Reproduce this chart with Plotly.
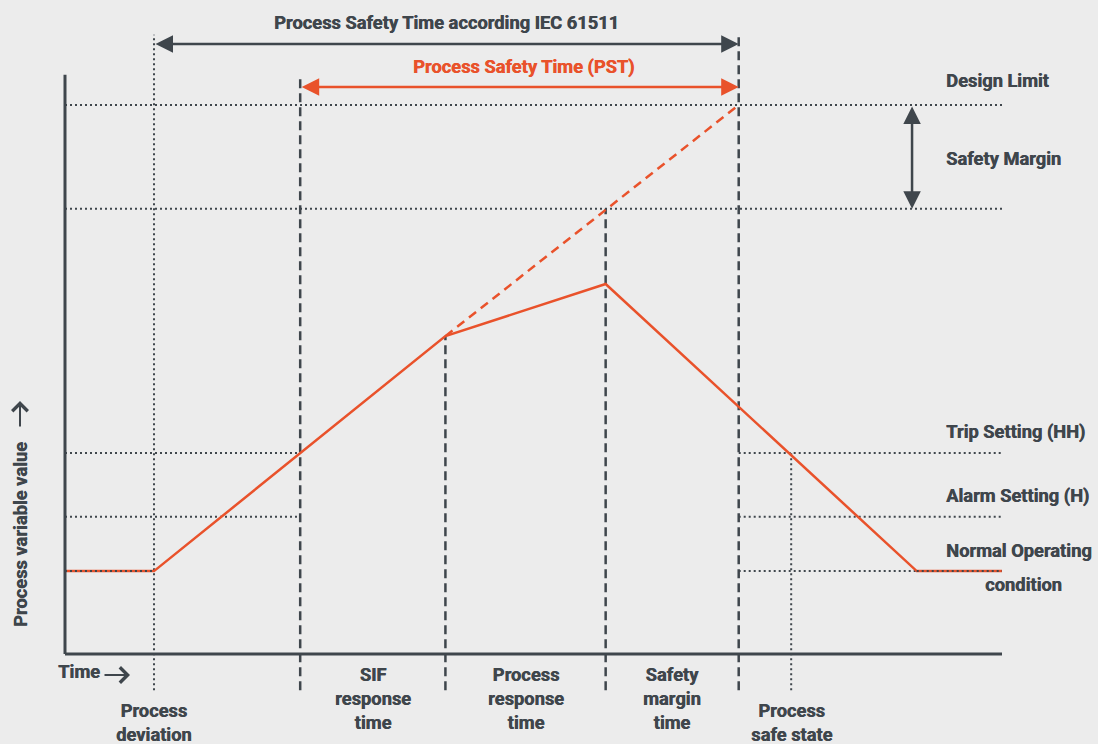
import plotly.graph_objects as go

# ---------------- data (conceptual units) ----------------
# time axis: 0 = axis origin, 100 = axis end
t_axis_end = 100.0
t_deviation = 9.5
t_sif = 25.1
t_process_response = 40.6
t_safety_margin = 57.7
t_pst_end = 71.9
t_safe_state = 77.5
t_normal_return = 90.9

# process variable levels: 0 = time axis
v_axis_top = 105.5
v_design_limit = 100.0
v_margin_floor = 81.1
v_trip = 36.6
v_alarm = 25.0
v_normal = 15.1
v_sif_act = 57.9
v_peak = 67.4
v_event_bottom = -6.6
v_event_top = 112.8
v_iec_arrow = 111.1
v_pst_arrow = 103.3
t_margin_arrow = 90.4

curve_t = [0.0, t_deviation, t_process_response, t_safety_margin, t_normal_return, t_axis_end]
curve_v = [v_normal, v_normal, v_sif_act, v_peak, v_normal, v_normal]
uncontrolled_t = [t_process_response, t_pst_end]
uncontrolled_v = [v_sif_act, v_design_limit]

level_labels = ["Design Limit", "Safety Margin", "Trip Setting (HH)", "Alarm Setting (H)", "Normal Operating"]
phase_labels = ["SIF<br>response<br>time", "Process<br>response<br>time", "Safety<br>margin<br>time"]

# ---------------- styling ----------------
W, H = 1098, 744
KX, KY = 9.37, 5.49          # px per unit
X0, Y0 = 65, 654             # pixel of origin
DARK = "#3f464c"
RED = "#e9522b"
FONT = "Roboto, 'Liberation Sans', Arial, sans-serif"
BG = "#ececec"

x_range = [-X0 / KX, (W - X0) / KX]
y_range = [-(H - Y0) / KY, Y0 / KY]

fig = go.Figure()


def line(xs, ys, color=DARK, width=2, dash="solid"):
    fig.add_trace(go.Scatter(x=xs, y=ys, mode="lines", hoverinfo="skip",
                             line=dict(color=color, width=width, dash=dash),
                             showlegend=False))


DOT = "2px,3px"
DASH = "9px,5px"

# horizontal reference levels
line([0, t_axis_end], [v_design_limit] * 2, dash=DOT)
line([0, t_axis_end], [v_margin_floor] * 2, dash=DOT)
for lvl in (v_trip, v_alarm):
    line([0, t_sif], [lvl] * 2, dash=DOT)
    line([t_pst_end, t_axis_end], [lvl] * 2, dash=DOT)
line([t_pst_end, t_axis_end], [v_normal] * 2, dash=DOT)

# vertical event lines
line([t_deviation] * 2, [v_event_bottom, v_event_top], dash=DOT)
line([t_safe_state] * 2, [v_event_bottom, v_trip], dash=DOT)
line([t_sif] * 2, [v_event_bottom, v_axis_top], width=2.5, dash=DASH)
line([t_process_response] * 2, [v_event_bottom, v_sif_act], width=2.5, dash=DASH)
line([t_safety_margin] * 2, [v_event_bottom, v_margin_floor], width=2.5, dash=DASH)
line([t_pst_end] * 2, [v_event_bottom, v_event_top], width=2.5, dash=DASH)

# process curve
line(uncontrolled_t, uncontrolled_v, color=RED, width=2.5, dash="9px,6px")
line(curve_t, curve_v, color=RED, width=2.5)
line([0, t_deviation], [v_normal] * 2, color=DARK, width=2, dash=DOT)
line([t_normal_return, t_axis_end], [v_normal] * 2, color=DARK, width=2, dash=DOT)

# axes
line([0, 0], [0, v_axis_top], width=3)
line([0, t_axis_end], [0, 0], width=3)


def arrow(x, y, ax, ay, color, width=2.5, head=2, side="end+start", size=1.4):
    fig.add_annotation(x=x, y=y, ax=ax, ay=ay, xref="x", yref="y", axref="x", ayref="y",
                       showarrow=True, arrowhead=head, startarrowhead=head, arrowside=side,
                       arrowsize=size, startarrowsize=size,
                       arrowwidth=width, arrowcolor=color, standoff=0, startstandoff=0, text="")


def vp(py):  # pixel row -> value units (for label placement)
    return (Y0 - py) / KY


def tp(px):
    return (px - X0) / KX


arrow(t_pst_end, v_iec_arrow, t_deviation, v_iec_arrow, DARK)
arrow(t_pst_end, v_pst_arrow, t_sif, v_pst_arrow, RED)
arrow(t_margin_arrow, v_margin_floor, t_margin_arrow, v_design_limit, DARK)

# axis direction arrows (open chevron heads)
arrow(tp(130), vp(675), tp(103), vp(675), DARK, width=2, head=4, side="end", size=1.5)
arrow(tp(20), vp(401), tp(20), vp(428), DARK, width=2, head=4, side="end", size=1.5)


def text(s, x, y, size=18.3, color=DARK, xanchor="center", yanchor="middle", angle=0):
    fig.add_annotation(x=x, y=y, xref="x", yref="y", text=f"<b>{s}</b>",
                       showarrow=False, xanchor=xanchor, yanchor=yanchor, textangle=angle,
                       font=dict(family=FONT, size=size, color=color,
                                 shadow=f"0.5px 0px 0px {color}"))


text("Process Safety Time according IEC 61511", (t_deviation + t_pst_end) / 2, vp(22))
text("Process Safety Time (PST)", (t_sif + t_pst_end) / 2 + 0.5, vp(67), color=RED)

lab_x = tp(944)
text(level_labels[0], lab_x, vp(80), xanchor="left")
text(level_labels[1], lab_x, vp(158), xanchor="left")
text(level_labels[2], lab_x, vp(432), xanchor="left")
text(level_labels[3], lab_x, vp(496), xanchor="left")
text(level_labels[4], lab_x, vp(550), xanchor="left")
text("condition", tp(1023), vp(584))

text("Process<br>deviation", t_deviation, vp(722))
text(phase_labels[0], (t_sif + t_process_response) / 2, vp(698))
text(phase_labels[1], (t_process_response + t_safety_margin) / 2, vp(698))
text(phase_labels[2], (t_safety_margin + t_pst_end) / 2, vp(698))
text("Process<br>safe state", t_safe_state, vp(722))

text("Time", tp(79), vp(671))
text("Process variable value", tp(20), vp(535), angle=-90)

fig.update_layout(
    width=W, height=H,
    margin=dict(l=0, r=0, t=0, b=0),
    paper_bgcolor=BG, plot_bgcolor=BG,
    xaxis=dict(range=x_range, visible=False, fixedrange=True),
    yaxis=dict(range=y_range, visible=False, fixedrange=True),
    showlegend=False,
)

fig.write_html("out.html", config={"displayModeBar": False},
               post_script="document.body.style.margin='0';document.body.style.background='%s';" % BG)
